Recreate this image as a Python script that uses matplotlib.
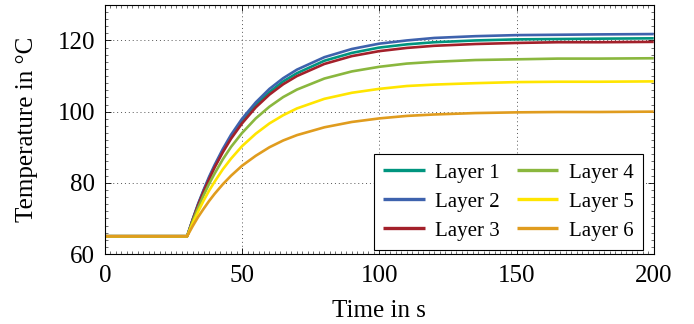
import matplotlib
matplotlib.use("Agg")
import matplotlib.pyplot as plt
from matplotlib.ticker import MultipleLocator

time = [0, 30, 32, 34, 36, 38, 40, 43, 46, 50, 55, 60, 65, 70, 80, 90, 100,
        110, 120, 135, 150, 165, 180, 200]

layer1 = [65, 65, 69.6, 73.9, 77.8, 81.3, 84.6, 89.0, 92.9, 97.3, 101.9, 105.5,
          108.5, 110.8, 114.3, 116.5, 118.0, 118.9, 119.5, 120.0, 120.3, 120.4,
          120.5, 120.6]
layer2 = [65, 65, 69.7, 74.1, 78.0, 81.7, 85.0, 89.5, 93.5, 98.0, 102.6, 106.4,
          109.4, 111.8, 115.3, 117.6, 119.1, 120.0, 120.7, 121.2, 121.5, 121.6,
          121.7, 121.8]
layer3 = [65, 65, 69.5, 73.7, 77.5, 81.0, 84.3, 88.6, 92.4, 96.7, 101.2, 104.8,
          107.7, 110.0, 113.4, 115.6, 117.0, 117.9, 118.5, 119.0, 119.3, 119.5,
          119.5, 119.6]
layer4 = [65, 65, 69.2, 73.0, 76.5, 79.7, 82.6, 86.6, 90.1, 94.0, 98.1, 101.4,
          104.1, 106.2, 109.3, 111.3, 112.6, 113.5, 114.0, 114.5, 114.7, 114.9,
          114.9, 115.0]
layer5 = [65, 65, 68.6, 71.9, 75.0, 77.8, 80.3, 83.8, 86.8, 90.3, 93.8, 96.7,
          99.0, 100.9, 103.6, 105.3, 106.4, 107.2, 107.6, 108.0, 108.3, 108.4,
          108.4, 108.5]
layer6 = [65, 65, 67.8, 70.4, 72.7, 74.9, 76.9, 79.6, 82.0, 84.8, 87.6, 90.0,
          91.9, 93.4, 95.6, 97.1, 98.1, 98.8, 99.2, 99.6, 99.8, 99.9, 99.9, 100.0]

labels = ["Layer 1", "Layer 2", "Layer 3", "Layer 4", "Layer 5", "Layer 6"]
colors = ["#00957F", "#3E62AD", "#A3202A", "#8AB73E", "#FFE500", "#E09C1E"]
series = [layer1, layer2, layer3, layer4, layer5, layer6]

plt.rcParams['font.family'] = ['Liberation Serif', 'DejaVu Serif']
plt.rcParams['mathtext.fontset'] = 'stix'

fig = plt.figure(figsize=(6.94, 3.24), dpi=100)
ax = fig.add_axes([0.151, 0.216, 0.791, 0.769])

for s, lab, c in zip(series, labels, colors):
    ax.plot(time, s, color=c, lw=1.9, label=lab, solid_capstyle='butt',
            solid_joinstyle='round')

ax.set_xlim(0, 200)
ax.set_ylim(60, 130)
ax.xaxis.set_major_locator(MultipleLocator(50))
ax.yaxis.set_major_locator(MultipleLocator(20))
ax.xaxis.set_minor_locator(MultipleLocator(2))
ax.yaxis.set_minor_locator(MultipleLocator(2))
ax.tick_params(which='both', direction='in', top=True, right=True,
               labelsize=18, width=0.6)
ax.tick_params(which='major', length=4)
ax.tick_params(axis='y', which='major', pad=7)
ax.tick_params(axis='x', which='major', pad=8)
ax.tick_params(which='minor', length=2, width=0.4)
ax.grid(True, which='major', linestyle=(0, (1, 3)), color='#555555', lw=0.7)
for sp in ax.spines.values():
    sp.set_linewidth(0.8)

ax.set_xlabel("Time in s", fontsize=18, labelpad=9)
ax.set_ylabel("Temperature in °C", fontsize=18, labelpad=14)

leg = ax.legend(ncol=2, loc='lower right', fontsize=15, frameon=True,
                fancybox=False, edgecolor='black', framealpha=1,
                handlelength=2.0, columnspacing=0.8, handletextpad=0.5,
                labelspacing=0.45, borderpad=0.45, borderaxespad=0,
                bbox_to_anchor=(0.98, 0.016))
leg.get_frame().set_linewidth(0.8)
for line in leg.get_lines():
    line.set_linewidth(2.4)

fig.savefig("out.png", dpi=100)
